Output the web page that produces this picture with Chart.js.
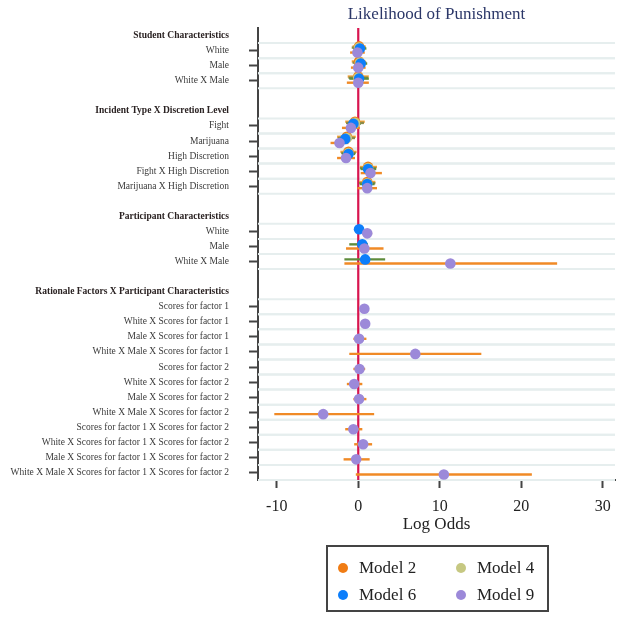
<!DOCTYPE html>
<html>
<head>
<meta charset="utf-8">
<script src="https://cdn.jsdelivr.net/npm/chart.js@4"></script>
<style>
  html, body { margin: 0; padding: 0; background: #fff; }
  #wrap { position: relative; width: 636px; height: 618px; }
  #legend {
    position: absolute; left: 326px; top: 545px; width: 219px; height: 63px;
    border: 2px solid #444; font-family: 'Liberation Serif', serif; font-size: 17px; color: #222;
  }
  #legend .item { position: absolute; display: flex; align-items: center; }
  #legend .dot { width: 10px; height: 10px; border-radius: 50%; margin-right: 11px; }
</style>
</head>
<body>
<div id="wrap">
  <canvas id="chart" width="636" height="618"></canvas>
  <div id="legend"></div>
</div>
<script>
// ── Rows (top to bottom), headers are bold, '' = blank spacer row ──
const rowLabels = [
  'Student Characteristics', 'White', 'Male', 'White X Male', '',
  'Incident Type X Discretion Level', 'Fight', 'Marijuana', 'High Discretion',
  'Fight X High Discretion', 'Marijuana X High Discretion', '',
  'Participant Characteristics', 'White', 'Male', 'White X Male', '',
  'Rationale Factors X Participant Characteristics', 'Scores for factor 1',
  'White X Scores for factor 1', 'Male X Scores for factor 1',
  'White X Male X Scores for factor 1', 'Scores for factor 2',
  'White X Scores for factor 2', 'Male X Scores for factor 2',
  'White X Male X Scores for factor 2', 'Scores for factor 1 X Scores for factor 2',
  'White X Scores for factor 1 X Scores for factor 2',
  'Male X Scores for factor 1 X Scores for factor 2',
  'White X Male X Scores for factor 1 X Scores for factor 2'
]
const headerRows = [0, 5, 12, 17]

const modelNames = ['Model 2', 'Model 4', 'Model 6', 'Model 9']

// estimates / lower / upper per model, one entry per row (null = not in model)
const model2Est = [null, 0.1, 0.1, 0.0, null, null, -0.4, -1.4, -1.2, 1.2, 1.1, null, null, null, null, null, null, null, null, null, null, null, null, null, null, null, null, null, null, null]
const model2Lo  = [null, -0.7, -0.8, -1.3, null, null, -1.6, -2.6, -2.2, 0.2, 0.1, null, null, null, null, null, null, null, null, null, null, null, null, null, null, null, null, null, null, null]
const model2Hi  = [null, 0.9, 0.9, 1.3, null, null, 0.8, -0.3, -0.2, 2.3, 2.1, null, null, null, null, null, null, null, null, null, null, null, null, null, null, null, null, null, null, null]

const model4Est = [null, 0.1, 0.2, 0.0, null, null, -0.4, -1.4, -1.2, 1.2, 1.1, null, null, null, null, null, null, null, null, null, null, null, null, null, null, null, null, null, null, null]
const model4Lo  = [null, -0.8, -0.7, -1.2, null, null, -1.5, -2.5, -2.1, 0.2, 0.1, null, null, null, null, null, null, null, null, null, null, null, null, null, null, null, null, null, null, null]
const model4Hi  = [null, 0.9, 1.0, 1.2, null, null, 0.7, -0.4, -0.3, 2.2, 2.1, null, null, null, null, null, null, null, null, null, null, null, null, null, null, null, null, null, null, null]

const model6Est = [null, 0.2, 0.3, 0.1, null, null, -0.6, -1.6, -1.2, 1.2, 1.1, null, null, 0.1, 0.5, 0.85, null, null, null, null, null, null, null, null, null, null, null, null, null, null]
const model6Lo  = [null, -0.6, -0.5, -1.1, null, null, -1.3, -2.4, -2.0, 0.3, 0.2, null, null, -0.3, -1.1, -1.7, null, null, null, null, null, null, null, null, null, null, null, null, null, null]
const model6Hi  = [null, 1.0, 1.1, 1.3, null, null, 0.3, -0.8, -0.4, 2.2, 2.0, null, null, 0.5, 1.2, 3.3, null, null, null, null, null, null, null, null, null, null, null, null, null, null]

const model9Est = [null, -0.1, 0.0, 0.0, null, null, -0.9, -2.3, -1.5, 1.5, 1.1, null, null, 1.1, 0.75, 11.3, null, null, 0.75, 0.85, 0.1, 7.0, 0.15, -0.5, 0.1, -4.3, -0.6, 0.6, -0.25, 10.5]
const model9Lo  = [null, -1.0, -0.9, -1.4, null, null, -2.0, -3.4, -2.6, 0.3, -0.1, null, null, 0.5, -1.5, -1.7, null, null, 0.4, 0.5, -0.6, -1.1, -0.6, -1.4, -0.6, -10.3, -1.6, -0.5, -1.8, -0.3]
const model9Hi  = [null, 0.8, 0.9, 1.3, null, null, 0.2, -1.2, -0.4, 2.9, 2.3, null, null, 1.7, 3.1, 24.4, null, null, 1.1, 1.2, 1.0, 15.1, 0.85, 0.5, 1.0, 1.95, 0.5, 1.7, 1.4, 21.3]

const xTicks = [-10, 0, 10, 20, 30]

const markerColors = ['#f07c14', '#c6c882', '#0c7efb', '#9c89d9']
const ciColors = ['#f3a43a', '#8c8a4a', '#5e8c3c', '#f08a26']
const rowOffsets = [-0.28, -0.2, -0.14, 0.13]

const estimates = [model2Est, model4Est, model6Est, model9Est]
const lows = [model2Lo, model4Lo, model6Lo, model9Lo]
const highs = [model2Hi, model4Hi, model6Hi, model9Hi]

const FONT = "'Liberation Serif', 'Times New Roman', serif"

const datasets = modelNames.map((name, m) => ({
  label: name,
  data: estimates[m]
    .map((v, i) => v === null ? null : { x: v, y: i + rowOffsets[m], lo: lows[m][i], hi: highs[m][i] })
    .filter(p => p),
  backgroundColor: markerColors[m],
  borderWidth: 0,
  pointRadius: 5.3,
  order: modelNames.length - m, // later models drawn on top
  ciColor: ciColors[m]
}))

const isItem = i => rowLabels[i] !== undefined && rowLabels[i] !== '' && !headerRows.includes(i)
const rowOf = c => (c.tick ? c.tick.value : c.index)

// row bands, zero line, confidence intervals and the title
const forestPlugin = {
  id: 'forest',
  beforeDatasetsDraw (chart) {
    const { ctx, chartArea: a, scales: { x, y } } = chart
    ctx.save()
    ctx.strokeStyle = '#e6eeee'
    ctx.lineWidth = 2
    rowLabels.forEach((_, i) => {
      if (!isItem(i)) return
      ;[i - 0.5, i + 0.5].forEach(b => {
        const py = y.getPixelForValue(b)
        ctx.beginPath(); ctx.moveTo(a.left, py); ctx.lineTo(a.right, py); ctx.stroke()
      })
    })
    const zx = x.getPixelForValue(0)
    ctx.strokeStyle = '#d8154f'
    ctx.lineWidth = 2.2
    ctx.beginPath(); ctx.moveTo(zx, a.top); ctx.lineTo(zx, a.bottom); ctx.stroke()

    ctx.lineWidth = 2.4
    chart.data.datasets.forEach(ds => {
      ctx.strokeStyle = ds.ciColor
      ds.data.forEach(p => {
        const py = y.getPixelForValue(p.y)
        ctx.beginPath()
        ctx.moveTo(x.getPixelForValue(p.lo), py)
        ctx.lineTo(x.getPixelForValue(p.hi), py)
        ctx.stroke()
      })
    })
    ctx.restore()
  },
  afterDraw (chart) {
    const { ctx, chartArea: a } = chart
    ctx.save()
    ctx.font = '17px ' + FONT
    ctx.fillStyle = '#2b3768'
    ctx.textAlign = 'center'
    ctx.textBaseline = 'middle'
    ctx.fillText('Likelihood of Punishment', (a.left + a.right) / 2, 14.5)
    ctx.restore()
  }
}

new Chart(document.getElementById('chart'), {
  type: 'scatter',
  data: { datasets },
  plugins: [forestPlugin],
  options: {
    responsive: false,
    animation: false,
    layout: { padding: { left: 8, right: 21, top: 28, bottom: 79 } },
    scales: {
      x: {
        type: 'linear', min: -12.3, max: 31.5,
        afterBuildTicks: s => { s.ticks = xTicks.map(v => ({ value: v })) },
        afterFit: s => { s.height = 59 },
        border: { color: '#444', width: 2 },
        grid: { drawOnChartArea: false, tickLength: 8, tickColor: '#444', tickWidth: 2 },
        ticks: { font: { family: FONT, size: 16, lineHeight: 1 }, color: '#222', padding: 11 },
        title: { display: true, text: 'Log Odds', font: { family: FONT, size: 17 }, color: '#222', padding: { top: 0, bottom: 4 } }
      },
      y: {
        type: 'linear', min: -0.5, max: 29.5, reverse: true,
        afterBuildTicks: s => { s.ticks = rowLabels.map((_, i) => ({ value: i })) },
        afterFit: s => { s.width = 250 },
        border: { color: '#444', width: 2 },
        grid: {
          drawOnChartArea: false, tickLength: 9, tickWidth: 2,
          tickColor: c => isItem(rowOf(c)) ? '#444' : 'rgba(0,0,0,0)'
        },
        ticks: {
          autoSkip: false, padding: 20,
          callback: v => rowLabels[v],
          color: c => headerRows.includes(rowOf(c)) ? '#2a2222' : '#3a3a3a',
          font: c => ({ family: FONT, size: 9.5, weight: headerRows.includes(rowOf(c)) ? 'bold' : 'normal' })
        }
      }
    },
    plugins: {
      legend: { display: false },
      tooltip: { enabled: false }
    }
  }
})

// legend, 2 x 2 grid
const legendPos = [[10, 11], [128, 11], [10, 38], [128, 38]]
const legendEl = document.getElementById('legend')
modelNames.forEach((name, m) => {
  const it = document.createElement('div')
  it.className = 'item'
  it.style.left = legendPos[m][0] + 'px'
  it.style.top = legendPos[m][1] + 'px'
  it.innerHTML = '<span class="dot" style="background:' + markerColors[m] + '"></span>' + name
  legendEl.appendChild(it)
})
</script>
</body>
</html>
